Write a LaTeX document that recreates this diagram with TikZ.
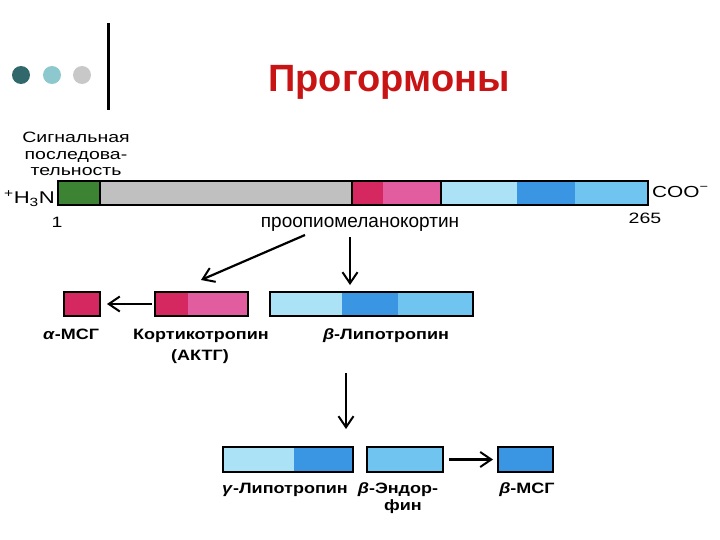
\documentclass[tikz,border=0pt]{standalone}
\usepackage{fontspec}
\setmainfont{Liberation Sans}
\newfontfamily\labfont[FakeStretch=1.2]{Liberation Sans}
\newfontfamily\notefont[FakeStretch=1.3]{Liberation Sans}
\usepackage{xcolor}
\usepackage{tikz}
\usetikzlibrary{arrows.meta,positioning}
\definecolor{hormred}{RGB}{200,20,20}
\definecolor{hormgreen}{RGB}{60,132,52}
\definecolor{hormgrey}{RGB}{192,192,192}
\definecolor{hormcrimson}{RGB}{214,40,96}
\definecolor{hormpink}{RGB}{226,92,160}
\definecolor{hormsky}{RGB}{172,226,245}
\definecolor{hormblue}{RGB}{58,150,226}
\definecolor{hormmid}{RGB}{112,196,240}
\definecolor{dotdark}{RGB}{48,104,108}
\definecolor{dotlight}{RGB}{140,200,205}
\definecolor{dotgrey}{RGB}{200,200,200}

\begin{document}
\begin{tikzpicture}[x=1pt, y=-1pt,
  seg/.style={anchor=north west, inner sep=0pt, outer sep=0pt, minimum height=#1},
  seg/.default=24pt,
  frame/.style={seg=#1, draw=black, line width=2.5pt},
  frame/.default=24pt,
  dot/.style={circle, inner sep=0pt, minimum size=18pt},
  lab/.style={font=\labfont\bfseries\fontsize{15}{18}\selectfont, anchor=base, inner sep=0pt},
  note/.style={font=\notefont\fontsize{15}{16.5}\selectfont, inner sep=0pt},
  arr/.style={-{Straight Barb[length=11pt,width=15pt,line width=2pt]}, line width=2.2pt}
]
\useasboundingbox (0,0) rectangle (720,540);
\node[dot, fill=dotdark] (d1) at (21,75) {};
\node[dot, fill=dotlight] (d2) at (52,75) {};
\node[dot, fill=dotgrey] (d3) at (82,75) {};
\coordinate (vt) at (108,23);
\coordinate (vb) at (108,110);
\draw[line width=3pt] (vt) -- (vb);
\node[anchor=base, text=hormred, font=\bfseries\fontsize{38}{44}\selectfont, inner sep=0pt] (ttl) at (389,92) {Прогормоны};

\node[seg, fill=hormgreen, minimum width=42pt] (sig) at (58,181) {};
\node[seg, fill=hormgrey, minimum width=252pt] (pro) at (100,181) {};
\node[seg, fill=hormcrimson, minimum width=31pt] (pa) at (352,181) {};
\node[seg, fill=hormpink, minimum width=58pt] (pb) at (383,181) {};
\node[seg, fill=hormsky, minimum width=76pt] (pc) at (441,181) {};
\node[seg, fill=hormblue, minimum width=58pt] (pd) at (517,181) {};
\node[seg, fill=hormmid, minimum width=73pt] (pe) at (575,181) {};
\node[frame, minimum width=590pt] (pomc) at (58,181) {};
\draw[line width=1.8pt] (sig.north east) -- (sig.south east);
\draw[line width=1.8pt] (pro.north east) -- (pro.south east);
\draw[line width=1.4pt] (pb.north east) -- (pb.south east);
\node[note, anchor=north, align=center] (sigl) at (76,132) {Сигнальная\\последова-\\тельность};
\node[note, anchor=base east, font=\notefont\fontsize{17}{18}\selectfont] (nterm) at (55,204) {\textsuperscript{+}H\textsubscript{3}N};
\node[note, anchor=base] (one) at (57,227) {1};
\node[note, anchor=base west, font=\notefont\fontsize{16}{18}\selectfont] (cterm) at (652,197) {COO\textsuperscript{−}};
\node[note, anchor=base] (last) at (645,223) {265};
\node[anchor=base, inner sep=0pt, font=\fontsize{19}{22}\selectfont] (pname) at (360,228) {проопиомеланокортин};

\node[seg, fill=hormcrimson, minimum width=36pt] (amsh) at (64,292) {};
\node[frame, minimum width=36pt] (amshf) at (64,292) {};
\node[seg, fill=hormcrimson, minimum width=33pt] (aa) at (155,292) {};
\node[seg, fill=hormpink, minimum width=60pt] (ab) at (188,292) {};
\node[frame, minimum width=93pt] (acth) at (155,292) {};
\node[seg, fill=hormsky, minimum width=72pt] (la) at (270,292) {};
\node[seg, fill=hormblue, minimum width=56pt] (lb) at (342,292) {};
\node[seg, fill=hormmid, minimum width=75pt] (lc) at (398,292) {};
\node[frame, minimum width=203pt] (blph) at (270,292) {};
\node[lab] (amshl) at (71,339) {\textit{α}-МСГ};
\node[lab] (acthl) at (201,339) {Кортикотропин};
\node[lab] (acthl2) at (200,360) {(АКТГ)};
\node[lab] (blphl) at (386,339) {\textit{β}-Липотропин};

\node[seg=25pt, fill=hormsky, minimum width=71pt] (ga) at (223,447) {};
\node[seg=25pt, fill=hormblue, minimum width=59pt] (gb) at (294,447) {};
\node[frame=25pt, minimum width=130pt] (glph) at (223,447) {};
\node[seg=25pt, fill=hormmid, minimum width=76pt] (bend) at (367,447) {};
\node[frame=25pt, minimum width=76pt] (bendf) at (367,447) {};
\node[seg=25pt, fill=hormblue, minimum width=55pt] (bmsh) at (498,447) {};
\node[frame=25pt, minimum width=55pt] (bmshf) at (498,447) {};
\node[lab] (glphl) at (285,493) {\textit{γ}-Липотропин};
\node[lab] (bendl) at (398,493) {\textit{β}-Эндор-};
\node[lab] (bendl2) at (403,510) {фин};
\node[lab] (bmshl) at (527,493) {\textit{β}-МСГ};

\coordinate (s1) at (305,235);
\coordinate (e1) at (201,280);
\coordinate (s2) at (350,237);
\coordinate (e2) at (350,285);
\coordinate (s3) at (346,373);
\coordinate (e3) at (346,429);
\coordinate[left=3pt of acth.west] (s4);
\coordinate[right=7pt of amshf.east] (e4);
\coordinate[right=6pt of bendf.east] (s5);
\coordinate[left=5pt of bmshf.west] (e5);
\draw[arr] (s1) -- (e1);
\draw[arr] (s2) -- (e2);
\draw[arr] (s4) -- (e4);
\draw[arr] (s3) -- (e3);
\draw[arr] (s5) -- (e5);
\end{tikzpicture}
\end{document}
